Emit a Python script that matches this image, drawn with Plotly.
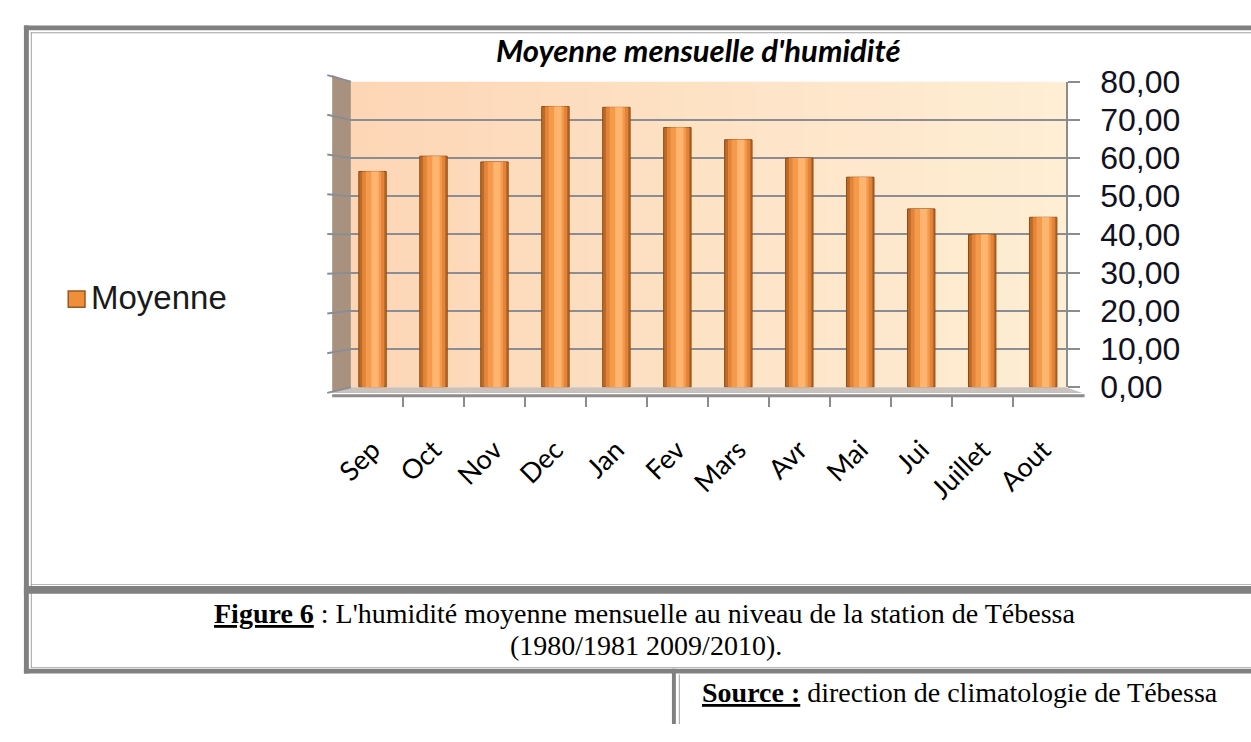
import plotly.graph_objects as go

# ---------------- data ----------------
months = ["Sep", "Oct", "Nov", "Dec", "Jan", "Fev", "Mars", "Avr", "Mai", "Jui", "Juillet", "Aout"]
moyenne = [56.5, 60.5, 59.0, 73.5, 73.3, 68.0, 64.8, 60.0, 55.0, 46.7, 40.0, 44.5]
y_ticks = [0, 10, 20, 30, 40, 50, 60, 70, 80]

title_text = "Moyenne mensuelle d'humidité"
legend_text = "Moyenne"
caption_1 = "<b><u>Figure 6</u></b> : L'humidité moyenne mensuelle au niveau de la station de Tébessa"
caption_2 = "(1980/1981 2009/2010)."
source_text = "<b><u>Source :</u></b> direction de climatologie de Tébessa"

W, H = 1251, 742


def px(x):
    return x / W


def py(y):
    return 1 - y / H


# plot area (back wall) in pixels
X0, X1 = 337, 1063
Y_TOP, Y_BOT = 67, 388

fig = go.Figure()

# cylinder-like bars: several overlaid bars of decreasing width
layers = [
    (0.45, -0.225, "#BE6A24", "#8E4A17", 1),
    (0.36, -0.17, "#E2853A", None, 0),
    (0.25, -0.11, "#F49A4A", None, 0),
    (0.12, -0.02, "#FFB56F", None, 0),
]
for w, off, col, lcol, lw in layers:
    fig.add_trace(go.Bar(
        x=months, y=moyenne, width=w, offset=off,
        marker=dict(color=col, line=dict(color=lcol or col, width=lw)),
        showlegend=False, hoverinfo="skip",
    ))

shapes = []

# back wall gradient (peach -> cream)
n = 30
c0 = (253, 214, 182)
c1 = (254, 238, 212)
for i in range(n):
    t = i / (n - 1)
    c = tuple(int(round(c0[k] + (c1[k] - c0[k]) * t)) for k in range(3))
    shapes.append(dict(type="rect", xref="x domain", yref="y domain",
                       x0=i / n, x1=(i + 1) / n + 0.002, y0=0, y1=1,
                       fillcolor="rgb(%d,%d,%d)" % c, line=dict(width=0), layer="below"))

# left side wall
shapes.append(dict(type="path", xref="paper", yref="paper",
                   path="M %f %f L %f %f L %f %f L %f %f Z" % (
                       px(318), py(60), px(X0), py(Y_TOP), px(X0), py(Y_BOT), px(318), py(394)),
                   fillcolor="#A8927F", line=dict(width=0), layer="below"))
# grid lines continuing on the side wall
for v in y_ticks:
    yb = Y_BOT - v * (Y_BOT - Y_TOP) / 80
    yf = 394 - v * (394 - 60) / 80
    shapes.append(dict(type="line", xref="paper", yref="paper",
                       x0=px(313), y0=py(yf), x1=px(X0), y1=py(yb),
                       line=dict(color="#8A8E94", width=2)))

# floor
shapes.append(dict(type="path", xref="paper", yref="paper",
                   path="M %f %f L %f %f L %f %f L %f %f Z" % (
                       px(318), py(394), px(X0), py(Y_BOT), px(X1), py(Y_BOT), px(1080), py(394)),
                   fillcolor="#C9C1BC", line=dict(width=0), layer="below"))
# front axis line
shapes.append(dict(type="line", xref="paper", yref="paper",
                   x0=px(318), y0=py(397), x1=px(1082), y1=py(397),
                   line=dict(color="#8C8C8C", width=3)))

# ---------------- page frame ----------------
G = "#808080"
T = "#A0A0A0"


def rect(x0, y0, x1, y1, col):
    shapes.append(dict(type="rect", xref="paper", yref="paper",
                       x0=px(x0), y0=py(y1), x1=px(x1), y1=py(y0),
                       fillcolor=col, line=dict(width=0)))


rect(5, 8, W, 13, G)        # top thick
rect(12, 15, W, 16, T)      # top thin
rect(5, 8, 10, 689, G)      # left thick
rect(12, 15, 13, 683, T)    # left thin
rect(12, 595, W, 596, T)    # thin above middle band
rect(5, 597, W, 605, G)     # middle thick band
rect(12, 682, W, 683, T)    # thin above bottom band
rect(5, 684, W, 689, G)     # bottom thick band
rect(663, 684, 667, H, G)   # source box vertical thick
rect(670, 690, 671, H, T)   # source box vertical thin

# legend key
rect(50, 287, 67, 304, "#F08F3A")
shapes.append(dict(type="rect", xref="paper", yref="paper",
                   x0=px(50), y0=py(304), x1=px(67), y1=py(287),
                   line=dict(color="#9A5520", width=1.5)))

annotations = [
    dict(text="<b><i>%s</i></b>" % title_text, x=px(690), y=py(34), xref="paper", yref="paper",
         xanchor="center", yanchor="middle", showarrow=False,
         font=dict(family="Lato", size=31, color="#000000")),
    dict(text=legend_text, x=px(213), y=py(294), xref="paper", yref="paper",
         xanchor="right", yanchor="middle", showarrow=False,
         font=dict(family="Liberation Sans", size=33, color="#1a1a1a")),
    dict(text=caption_1, x=px(635), y=py(626), xref="paper", yref="paper",
         xanchor="center", yanchor="middle", showarrow=False,
         font=dict(family="Liberation Serif", size=28, color="#000000")),
    dict(text=caption_2, x=px(637), y=py(659), xref="paper", yref="paper",
         xanchor="center", yanchor="middle", showarrow=False,
         font=dict(family="Liberation Serif", size=28, color="#000000")),
    dict(text=source_text, x=px(692), y=py(709), xref="paper", yref="paper",
         xanchor="left", yanchor="middle", showarrow=False,
         font=dict(family="Liberation Serif", size=28, color="#000000")),
]

fig.update_layout(
    width=W, height=H,
    margin=dict(l=0, r=0, t=0, b=0),
    paper_bgcolor="white",
    plot_bgcolor="rgba(0,0,0,0)",
    barmode="overlay",
    separators=", ",
    showlegend=False,
    shapes=shapes,
    annotations=annotations,
    xaxis=dict(
        domain=[px(X0), px(X1)],
        range=[-0.355, 11.372],
        type="category",
        anchor="free", position=py(397),
        showline=False, showgrid=False, zeroline=False,
        tickson="boundaries", ticks="outside", ticklen=10, tickwidth=2, tickcolor="#8C8C8C",
        tickangle=-45, ticklabelstandoff=32,
        tickfont=dict(family="Lato", size=27, color="#000000"),
    ),
    yaxis=dict(
        domain=[py(Y_BOT), py(Y_TOP)],
        range=[0, 80], tickvals=y_ticks, tickformat=".2f",
        side="right",
        showline=True, linecolor="#8C8C8C", linewidth=2,
        showgrid=True, gridcolor="#8A8E94", gridwidth=2,
        zeroline=False,
        ticks="outside", ticklen=12, tickwidth=2, tickcolor="#8C8C8C",
        ticklabelstandoff=14,
        tickfont=dict(family="Liberation Sans", size=32, color="#111122"),
    ),
)

fig.write_html(
    "out.html",
    config={"displayModeBar": False},
    post_script="document.body.style.margin='0';document.body.style.overflow='hidden';",
)
